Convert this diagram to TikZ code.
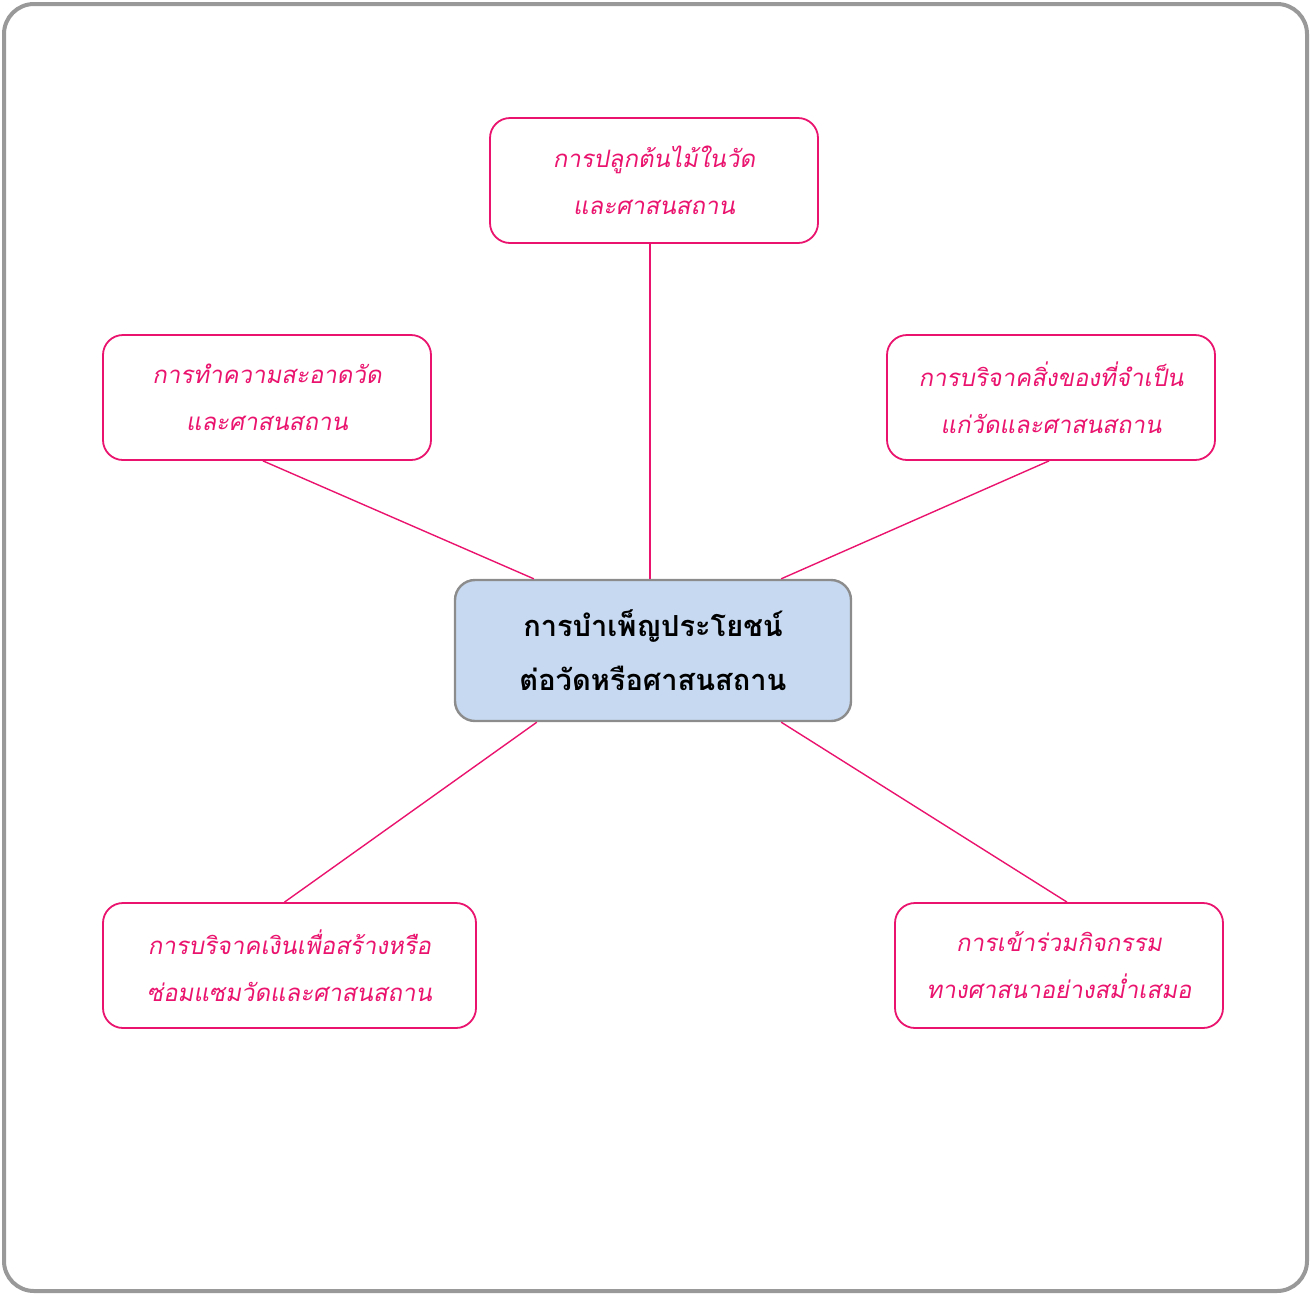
\documentclass[tikz,border=0pt]{standalone}
\usepackage{fontspec}
\newfontfamily\thaiit[Script=Thai,FakeSlant=0.18]{Loma}
\newfontfamily\thaibf[Script=Thai]{Loma}
\definecolor{pinkline}{RGB}{234,20,110}
\definecolor{framegray}{RGB}{153,153,153}
\definecolor{boxgray}{RGB}{140,140,140}
\definecolor{boxfill}{RGB}{198,217,240}
\begin{document}
\begin{tikzpicture}[x=1pt,y=-1pt,
  item/.style={draw=pinkline,line width=1.8pt,rounded corners=20pt,fill=white,
    minimum width=#1,minimum height=125pt,align=center,inner sep=0pt,
    text=pinkline,font=\thaiit\fontsize{24}{47}\selectfont},
  item/.default=328pt,
  hub/.style={draw=boxgray,line width=2.4pt,rounded corners=20pt,fill=boxfill,
    minimum width=396pt,minimum height=141pt,align=center,inner sep=0pt,
    font=\thaibf\bfseries\fontsize{29}{54}\selectfont},
  link/.style={draw=pinkline,line width=1.4pt}]
\useasboundingbox (0,0) rectangle (1314,1294);
\draw[framegray,line width=4pt,rounded corners=30pt] (4,4) rectangle (1307,1291);
\node[hub] (c) at (653,650.5) {การบำเพ็ญประโยชน์\\ต่อวัดหรือศาสนสถาน};
\node[item] (t) at (654,180.5) {การปลูกต้นไม้ในวัด\\และศาสนสถาน};
\node[item] (l) at (267,397.5) {การทำความสะอาดวัด\\และศาสนสถาน};
\node[item] (r) at (1051,397.5) {การบริจาคสิ่งของที่จำเป็น\\แก่วัดและศาสนสถาน};
\node[item=373pt] (bl) at (289.5,965.5) {การบริจาคเงินเพื่อสร้างหรือ\\ซ่อมแซมวัดและศาสนสถาน};
\node[item] (br) at (1059,965.5) {การเข้าร่วมกิจกรรม\\ทางศาสนาอย่างสม่ำเสมอ};
\coordinate (cnl) at ([xshift=80pt]c.north west);
\coordinate (cnr) at ([xshift=-71pt]c.north east);
\coordinate (csl) at ([xshift=83pt]c.south west);
\coordinate (csr) at ([xshift=-71pt]c.south east);
\coordinate (tb) at ([xshift=-4pt]t.south);
\coordinate (ct) at ([xshift=-3pt]c.north);
\draw[link] (tb) -- (ct);
\draw[link] ([xshift=-4pt]l.south) -- (cnl);
\draw[link] ([xshift=-2pt]r.south) -- (cnr);
\draw[link] ([xshift=-5pt]bl.north) -- (csl);
\draw[link] ([xshift=8pt]br.north) -- (csr);
\end{tikzpicture}
\end{document}
